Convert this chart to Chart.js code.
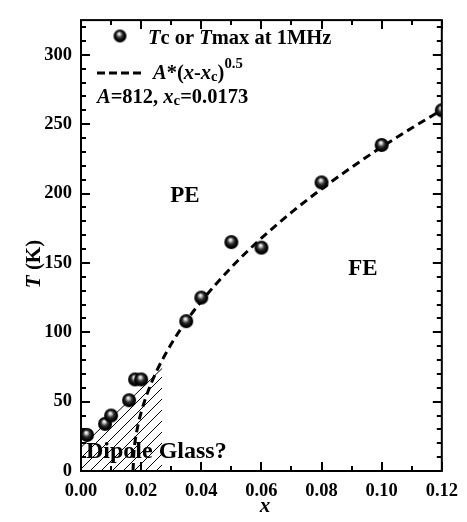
<!DOCTYPE html>
<html>
<head>
<meta charset="utf-8">
<script src="https://cdn.jsdelivr.net/npm/chart.js@4"></script>
<style>
  html, body { margin: 0; padding: 0; background: #fff; }
  canvas { display: block; }
</style>
</head>
<body>
<canvas id="chart" width="467" height="522"></canvas>
<script>
// measured points: Tc or Tmax at 1MHz
const xValues = [0.002, 0.008, 0.010, 0.016, 0.018, 0.020, 0.035, 0.040, 0.050, 0.060, 0.080, 0.100, 0.120];
const tValues = [26, 34, 40, 51, 66, 66, 108, 125, 165, 161, 208, 235, 260];

// dashed fit curve A*(x-xc)^0.5
const fitX = [0.0173, 0.0176, 0.018, 0.019, 0.020, 0.022, 0.025, 0.030, 0.035, 0.040, 0.050, 0.060, 0.070, 0.080, 0.090, 0.100, 0.110, 0.120];
const fitT = [0, 14.1, 21.5, 33.5, 42.2, 55.7, 71.3, 91.5, 108.0, 122.3, 146.8, 167.8, 186.4, 203.3, 218.9, 233.5, 247.2, 260.2];

// hatched "dipole glass" region (top edge)
const hatchX = [0, 0.027];
const hatchT = [17, 74];

const xTicks = [0, 0.02, 0.04, 0.06, 0.08, 0.10, 0.12];
const yTicks = [0, 50, 100, 150, 200, 250, 300];
const xMinor = [0, 0.01, 0.02, 0.03, 0.04, 0.05, 0.06, 0.07, 0.08, 0.09, 0.10, 0.11, 0.12];
const yMinor = [0, 10, 20, 30, 40, 50, 60, 70, 80, 90, 100, 110, 120, 130, 140, 150, 160, 170, 180, 190, 200, 210, 220, 230, 240, 250, 260, 270, 280, 290, 300, 310, 320];

const SERIF = '"Liberation Serif", "Times New Roman", serif';

// shaded ball marker
function makeBall(r){
  var c = document.createElement("canvas");
  c.width = r*2+2; c.height = r*2+2;
  var g = c.getContext("2d");
  var cx = c.width/2, cy = c.height/2;
  var grad = g.createRadialGradient(cx-1, cy-2.5, 0.3, cx, cy, r);
  grad.addColorStop(0, "#ffffff");
  grad.addColorStop(0.18, "#c0c0c0");
  grad.addColorStop(0.45, "#333333");
  grad.addColorStop(0.8, "#000000");
  grad.addColorStop(1, "#000000");
  g.fillStyle = grad;
  g.beginPath(); g.arc(cx, cy, r, 0, Math.PI*2); g.fill();
  return c;
}
const ball = makeBall(7);
const legendBall = makeBall(6.5);

// diagonal hatch
function makeHatch(){
  var s = 11;
  var c = document.createElement("canvas");
  c.width = s; c.height = s;
  var g = c.getContext("2d");
  g.strokeStyle = "#000"; g.lineWidth = 1;
  g.beginPath();
  g.moveTo(0, s); g.lineTo(s, 0);
  g.moveTo(-1, 1); g.lineTo(1, -1);
  g.moveTo(s-1, s+1); g.lineTo(s+1, s-1);
  g.stroke();
  return document.getElementById("chart").getContext("2d").createPattern(c, "repeat");
}

// draw text made of styled pieces
function drawRich(ctx, parts, x, y, size){
  var cur = x;
  parts.forEach(function(p){
    var fs = p.sub || p.sup ? size*0.72 : size;
    ctx.font = (p.i ? "italic " : "") + "bold " + fs + "px " + SERIF;
    var dy = p.sub ? size*0.12 : (p.sup ? -size*0.55 : 0);
    ctx.fillText(p.t, cur, y + dy);
    cur += ctx.measureText(p.t).width;
  });
  return cur;
}
function richWidth(ctx, parts, size){
  var w = 0;
  parts.forEach(function(p){
    var fs = p.sub || p.sup ? size*0.72 : size;
    ctx.font = (p.i ? "italic " : "") + "bold " + fs + "px " + SERIF;
    w += ctx.measureText(p.t).width;
  });
  return w;
}

// zero-size scales that only draw inward tick marks
function tickScale(pos, values, len){
  var horiz = pos == "top" || pos == "bottom";
  return {
    type: "linear", axis: horiz ? "x" : "y", position: pos, weight: 0,
    min: 0, max: horiz ? 0.12 : 325,
    ticks: { display: false },
    grid: { display: true, drawOnChartArea: false, drawTicks: true, tickLength: -len, tickWidth: 2, tickColor: "#000", color: "#000", lineWidth: 2 },
    border: { display: false },
    afterBuildTicks: s => { s.ticks = values.map(v => ({ value: v })); },
    afterFit: s => { if(horiz) s.height = 0; else s.width = 0; }
  };
}

const decor = {
  id: "decor",
  afterDraw(chart){
    var ctx = chart.ctx, a = chart.chartArea;
    ctx.save();
    ctx.setLineDash([]);
    ctx.strokeStyle = "#000";
    ctx.fillStyle = "#000";
    // frame
    ctx.lineWidth = 2;
    ctx.strokeRect(a.left, a.top, a.right - a.left, a.bottom - a.top);

    ctx.textBaseline = "alphabetic";
    ctx.textAlign = "left";
    // legend
    ctx.drawImage(legendBall, 120 - legendBall.width/2, 36 - legendBall.height/2);
    drawRich(ctx, [{t:"T", i:true}, {t:"c or "}, {t:"T", i:true}, {t:"max at 1MHz"}], 148, 44, 20.5);
    ctx.lineWidth = 3;
    ctx.setLineDash([8, 4]);
    ctx.beginPath(); ctx.moveTo(97, 73); ctx.lineTo(142, 73); ctx.stroke();
    ctx.setLineDash([]);
    drawRich(ctx, [{t:"A", i:true}, {t:"*("}, {t:"x", i:true}, {t:"-"}, {t:"x", i:true}, {t:"c", sub:true}, {t:")"}, {t:"0.5", sup:true}], 153, 79, 20.5);
    drawRich(ctx, [{t:"A", i:true}, {t:"=812, "}, {t:"x", i:true}, {t:"c", sub:true}, {t:"=0.0173"}], 97, 103, 20.5);

    // phase labels
    ctx.font = "bold 23px " + SERIF;
    ctx.textAlign = "center";
    ctx.textBaseline = "middle";
    ctx.fillText("PE", 185, 196);
    ctx.fillText("FE", 363, 269);
    ctx.textAlign = "left";
    ctx.textBaseline = "alphabetic";
    ctx.font = "bold 24px " + SERIF;
    ctx.fillText("Dipole Glass?", 86, 458);

    // axis titles
    var xt = [{t:"x", i:true}];
    drawRich(ctx, xt, 265 - richWidth(ctx, xt, 21)/2, 512, 21);
    var yt = [{t:"T", i:true}, {t:" (K)"}];
    ctx.translate(40, 264);
    ctx.rotate(-Math.PI/2);
    drawRich(ctx, yt, -richWidth(ctx, yt, 21)/2, 0, 21);
    ctx.restore();
  }
};

const tickFont = { family: SERIF, size: 18.5, weight: "bold" };

new Chart(document.getElementById("chart"), {
  type: "scatter",
  data: {
    datasets: [
      {
        label: "Tc or Tmax at 1MHz",
        data: xValues.map((x, i) => ({ x: x, y: tValues[i] })),
        pointStyle: ball,
        pointRadius: 7,
        showLine: false,
        order: 0
      },
      {
        label: "fit",
        type: "line",
        data: fitX.map((x, i) => ({ x: x, y: fitT[i] })),
        borderColor: "#000",
        borderWidth: 3,
        borderDash: [8, 5],
        pointRadius: 0,
        cubicInterpolationMode: "monotone",
        fill: false,
        order: 1
      },
      {
        label: "hatch",
        type: "line",
        data: hatchX.map((x, i) => ({ x: x, y: hatchT[i] })),
        borderColor: "#000",
        borderWidth: 1,
        backgroundColor: makeHatch(),
        pointRadius: 0,
        fill: "origin",
        order: 2
      }
    ]
  },
  options: {
    responsive: false,
    animation: false,
    layout: { padding: { top: 16, right: 18, left: 0, bottom: 0 } },
    plugins: { legend: { display: false }, tooltip: { enabled: false } },
    scales: {
      x: {
        type: "linear", min: 0, max: 0.12, weight: 1,
        grid: { display: false, drawTicks: false }, border: { display: false },
        ticks: { font: tickFont, color: "#000", padding: 9, maxRotation: 0, callback: v => v.toFixed(2) },
        afterBuildTicks: s => { s.ticks = xTicks.map(v => ({ value: v })); },
        afterFit: s => { s.height = 51; }
      },
      y: {
        type: "linear", min: 0, max: 325, weight: 1,
        grid: { display: false, drawTicks: false }, border: { display: false },
        ticks: { font: tickFont, color: "#000", padding: 9 },
        afterBuildTicks: s => { s.ticks = yTicks.map(v => ({ value: v })); },
        afterFit: s => { s.width = 81; }
      },
      xMajB: tickScale("bottom", xTicks, 9),
      xMinB: tickScale("bottom", xMinor, 5),
      xMajT: tickScale("top", xTicks, 9),
      xMinT: tickScale("top", xMinor, 5),
      yMajL: tickScale("left", yTicks, 9),
      yMinL: tickScale("left", yMinor, 5),
      yMajR: tickScale("right", yTicks, 9),
      yMinR: tickScale("right", yMinor, 5)
    }
  },
  plugins: [decor]
});
</script>
</body>
</html>
